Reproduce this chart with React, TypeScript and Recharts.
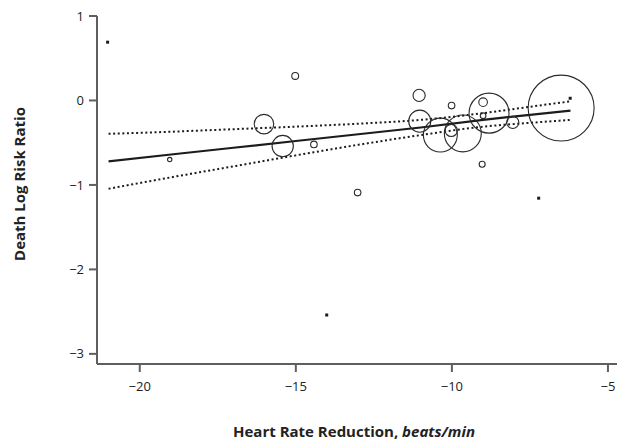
import { Label, Scatter, ScatterChart, XAxis, YAxis, ZAxis } from "recharts";

// individual trials: heart rate reduction, log risk ratio, weight (%)
const studyX = [-19.04, -15.02, -16.02, -15.42, -14.42, -13.02, -11.05, -10.01, -11.03, -10.37, -10.02, -9.65, -9.0, -8.81, -9.0, -8.05, -6.5, -9.03];
const studyY = [-0.7, 0.29, -0.28, -0.54, -0.52, -1.09, 0.06, -0.06, -0.245, -0.41, -0.355, -0.39, -0.02, -0.15, -0.18, -0.26, -0.09, -0.755];
const studyWeight = [0.18, 0.44, 3.6, 4.3, 0.41, 0.41, 1.4, 0.41, 4.6, 10.9, 1.4, 12.9, 0.7, 15.1, 0.3, 1.4, 41.2, 0.34];

// trials drawn as dots
const dotX = [-21.03, -14.01, -7.22, -6.21];
const dotY = [0.69, -2.54, -1.157, 0.026];

// meta-regression line and 95% CI
const fitX = [-21, -19, -17, -15, -13, -11, -9, -7.5, -6.2];
const fitY = [-0.72, -0.64, -0.56, -0.48, -0.4, -0.32, -0.23, -0.17, -0.12];
const upperY = [-0.395, -0.37, -0.34, -0.31, -0.275, -0.23, -0.15, -0.075, -0.01];
const lowerY = [-1.045, -0.91, -0.78, -0.65, -0.525, -0.41, -0.31, -0.265, -0.23];

const xTicks = [-20, -15, -10, -5];
const yTicks = [-3, -2, -1, 0, 1];

const FONT = "'Open Sans', sans-serif";
const AXIS = "#5f5f5f";
const INK = "#1c1c1c";

const studies = studyX.map((x, i) => ({ x, y: studyY[i], w: studyWeight[i] }));
const dots = dotX.map((x, i) => ({ x, y: dotY[i] }));
const fit = fitX.map((x, i) => ({ x, y: fitY[i] }));
const upper = fitX.map((x, i) => ({ x, y: upperY[i] }));
const lower = fitX.map((x, i) => ({ x, y: lowerY[i] }));

const minus = (v: number) => (v < 0 ? "\u2212" + Math.abs(v) : String(v));

const Bubble = (p: any) => (
  <circle cx={p.cx} cy={p.cy} r={p.width / 2} fill="none" stroke="#2a2a2a" strokeWidth={1.1} />
);
const Dot = (p: any) => <rect x={p.cx - 1.5} y={p.cy - 1.5} width={3} height={3} fill={INK} />;
const NoShape = () => <g />;

export default function App() {
  return (
    <div style={{ position: "absolute", left: 0, top: 0, background: "#fff" }}>
      <ScatterChart width={617} height={441} margin={{ top: 16, right: 0, bottom: 0, left: 0 }}>
        <XAxis
          type="number"
          dataKey="x"
          domain={[-21.37, -4.71]}
          ticks={xTicks}
          tickFormatter={minus}
          height={77}
          tickSize={8}
          tickMargin={10}
          stroke={AXIS}
          strokeWidth={2}
          tick={{ fill: "#222", fontSize: 13, fontFamily: FONT }}
        >
          <Label
            content={() => (
              <text x={354} y={437} textAnchor="middle" fontFamily={FONT} fontSize={15} fontWeight={700} fill="#222">
                <tspan>Heart Rate Reduction, </tspan>
                <tspan fontStyle="italic">beats/min</tspan>
              </text>
            )}
          />
        </XAxis>
        <YAxis
          type="number"
          dataKey="y"
          domain={[-3.12, 1]}
          ticks={yTicks}
          tickFormatter={minus}
          width={97}
          tickSize={8}
          tickMargin={5}
          stroke={AXIS}
          strokeWidth={2}
          tick={{ fill: "#222", fontSize: 13, fontFamily: FONT }}
        >
          <Label
            content={() => (
              <text
                x={19}
                y={184}
                transform="rotate(-90 19 184)"
                textAnchor="middle"
                dominantBaseline="central"
                fontFamily={FONT}
                fontSize={15}
                fontWeight={700}
                fill="#222"
              >
                Death Log Risk Ratio
              </text>
            )}
          />
        </YAxis>
        <ZAxis type="number" dataKey="w" domain={[0, 100]} range={[0, 8300]} />
        <Scatter
          data={upper}
          shape={NoShape}
          line={{ stroke: INK, strokeWidth: 2, strokeDasharray: "2 2.6" }}
          lineJointType="monotoneX"
          isAnimationActive={false}
        />
        <Scatter
          data={lower}
          shape={NoShape}
          line={{ stroke: INK, strokeWidth: 2, strokeDasharray: "2 2.6" }}
          lineJointType="monotoneX"
          isAnimationActive={false}
        />
        <Scatter
          data={fit}
          shape={NoShape}
          line={{ stroke: INK, strokeWidth: 2.2 }}
          isAnimationActive={false}
        />
        <Scatter data={studies} shape={Bubble} isAnimationActive={false} />
        <Scatter data={dots} shape={Dot} isAnimationActive={false} />
      </ScatterChart>
    </div>
  );
}
